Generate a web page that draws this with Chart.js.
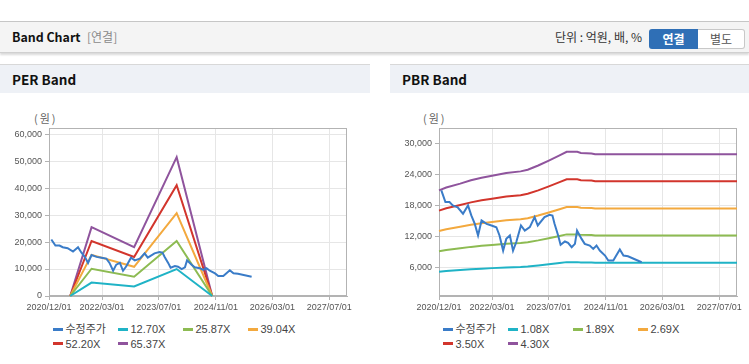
<!DOCTYPE html>
<html><head><meta charset="utf-8">
<script src="https://cdn.jsdelivr.net/npm/chart.js@4.4.1/dist/chart.umd.min.js"></script>
<style>
html,body{margin:0;padding:0;background:#fff;width:749px;height:364px;overflow:hidden;font-family:"Noto Sans CJK KR","Liberation Sans",sans-serif;}
.abs{position:absolute;}
#topline{left:0;top:21px;width:749px;height:1px;background:#c6c6c6;}
#hdr{left:0;top:22px;width:749px;height:30px;background:#f4f4f4;border-bottom:1px solid #d0d0d0;box-shadow:0 2px 2px rgba(0,0,0,0.15);}
#hdrTitle{left:12px;top:22px;height:30px;line-height:30px;font-size:12.4px;font-weight:700;color:#111;}
#hdrSub{left:87px;top:22px;height:30px;line-height:30px;font-size:12px;color:#8a8a8a;}
#unit{right:107px;top:22px;height:30px;line-height:30px;font-size:12px;color:#333;}
#btn1{left:649px;top:29px;width:49px;height:20px;line-height:20px;text-align:center;background:#2f6fb6;color:#fff;font-size:12px;font-weight:700;border-radius:3px 0 0 3px;}
#btn2{left:698px;top:29px;width:46px;height:18px;line-height:18px;text-align:center;background:#fff;color:#555;font-size:12px;border:1px solid #c8c8c8;border-left:none;border-radius:0 3px 3px 0;}
.panel{top:64px;height:299px;border-top:1px solid #d8d8d8;border-bottom:1px solid #cfcfcf;background:#fff;}
.phead{left:0;top:0;right:0;height:28px;background:#eef1f6;}
.ptitle{left:12px;top:0;height:28px;line-height:28px;font-size:13.5px;font-weight:700;color:#111;}
.unitlbl{font-size:11px;color:#666;top:110px;letter-spacing:2px;}
.legend{font-family:"Liberation Sans","Noto Sans CJK KR",sans-serif;font-size:11px;color:#444;}
.lrow{height:14.7px;line-height:14.7px;white-space:nowrap;}
.litem{display:inline-block;width:65px;white-space:nowrap;}
.lmark{display:inline-block;width:10px;height:3px;vertical-align:middle;margin-right:2.5px;position:relative;top:-1px;}
</style>
</head>
<body>
<div id="topline" class="abs"></div>
<div id="hdr" class="abs"></div>
<div id="hdrTitle" class="abs">Band Chart</div>
<div id="hdrSub" class="abs">[연결]</div>
<div id="unit" class="abs">단위 : 억원, 배, %</div>
<div id="btn1" class="abs">연결</div>
<div id="btn2" class="abs">별도</div>

<div class="abs panel" style="left:0;width:370px;">
  <div class="abs phead"></div>
  <div class="abs ptitle">PER Band</div>
</div>
<div class="abs panel" style="left:390px;width:359px;">
  <div class="abs phead"></div>
  <div class="abs ptitle">PBR Band</div>
</div>
<div class="abs unitlbl" style="left:34px;">(원)</div>
<div class="abs unitlbl" style="left:423px;">(원)</div>

<div class="abs" style="left:0;top:120px;width:370px;height:196px;"><canvas id="per" width="370" height="196"></canvas></div>
<div class="abs" style="left:390px;top:120px;width:359px;height:196px;"><canvas id="pbr" width="359" height="196"></canvas></div>

<div id="perLegend" class="abs legend" style="left:53px;top:322px;"></div>
<div id="pbrLegend" class="abs legend" style="left:443px;top:322px;"></div>

<script>
// ---- Data ----
const xTickLabels = ['2020/12/01','2022/03/01','2023/07/01','2024/11/01','2026/03/01','2027/07/01'];
const xRange = ['2020/12/01','2027/12/01'];

const priceLabel = '수정주가';
const priceDates = ['2020/12/21','2021/01/25','2021/03/01','2021/03/29','2021/05/10','2021/06/25','2021/08/07','2021/09/04',
  '2021/10/04','2021/11/01','2021/12/01','2022/01/13','2022/02/24','2022/04/07','2022/05/04','2022/06/04','2022/07/01',
  '2022/08/01','2022/08/28','2022/09/25','2022/11/04','2022/12/07','2023/01/19','2023/03/01','2023/03/28','2023/05/25',
  '2023/07/07','2023/08/01','2023/08/19','2023/09/19','2023/10/10','2023/11/16','2023/12/13','2024/01/13','2024/02/10',
  '2024/02/28','2024/04/07','2024/05/04','2024/06/16','2024/07/16','2024/08/13','2024/09/10','2024/10/25','2024/11/22',
  '2025/01/04','2025/03/01','2025/04/01','2025/05/10','2025/09/04'];
const priceValues = [20960,18700,18700,18060,17700,16450,18060,16130,
  14500,12260,15160,14500,14190,13860,12260,9350,11610,
  12260,9350,11000,14190,13200,13860,15800,14190,15800,
  16260,16100,14520,12260,10450,11100,10840,10000,10650,
  13220,11610,10650,10320,9680,10320,9350,8390,7420,
  7420,9550,8390,8260,7100];

const perBandLabels = ['12.70X','25.87X','39.04X','52.20X','65.37X'];
const perBandDates = ['2021/06/01','2021/12/01','2022/12/01','2023/12/01','2024/10/01'];
const per1270 = [0,4960,3520,9990,0];
const per2587 = [0,10100,7170,20350,0];
const per3904 = [0,15250,10830,30720,0];
const per5220 = [0,20390,14480,41070,0];
const per6537 = [0,25530,18130,51430,0];
const perYTicks = [0,10000,20000,30000,40000,50000,60000];
const perYRange = [0,62100];

const pbrBandLabels = ['1.08X','1.89X','2.69X','3.50X','4.30X'];
const pbrBandDates = ['2020/12/01','2021/02/01','2021/06/01','2021/09/01','2021/12/01','2022/03/01','2022/07/01',
  '2022/11/01','2023/01/01','2023/04/01','2023/07/01','2023/10/01','2023/12/01','2024/03/01','2024/04/01',
  '2024/07/01','2024/08/01','2027/12/01'];
const pbr108 = [5264,5400,5591,5752,5875,5972,6102,6183,6264,6469,6707,6955,7128,7128,7074,7052,7015,7015];
const pbr189 = [9212,9450,9785,10066,10282,10452,10679,10820,10962,11321,11737,12172,12474,12474,12380,12342,12276,12276];
const pbr269 = [13111,13450,13926,14327,14634,14876,15199,15400,15602,16113,16705,17324,17754,17754,17620,17566,17472,17472];
const pbr350 = [17059,17500,18120,18641,19040,19355,19775,20038,20300,20965,21735,22540,23100,23100,22925,22855,22733,22733];
const pbr430 = [20958,21500,22261,22902,23392,23779,24295,24618,24940,25757,26703,27692,28380,28380,28165,28079,27929,27929];
const pbrYTicks = [6000,12000,18000,24000,30000];
const pbrYRange = [600,32900];

const colors = {price:'#3a7cc8', b1:'#1fb3c6', b2:'#8dbb52', b3:'#f3a93e', b4:'#d2352c', b5:'#8f549d'};

// ---- Helpers ----
function ms(s){const p=s.split('/').map(Number);return Date.UTC(p[0],p[1]-1,p[2]);}
function fmt(v){const d=new Date(v);const m=d.getUTCMonth()+1, dd=d.getUTCDate();return d.getUTCFullYear()+'/'+(m<10?'0':'')+m+'/'+(dd<10?'0':'')+dd;}
function pts(dates, vals){return dates.map((d,i)=>({x:ms(d),y:vals[i]}));}
function ds(label, data, color){return {label, data, borderColor:color, backgroundColor:color, borderWidth:2, pointRadius:0, tension:0, fill:false, clip:false};}

const framePlugin = {id:'frame', beforeDatasetsDraw(chart){const {ctx,chartArea:a}=chart;ctx.save();ctx.strokeStyle='#b3b3b3';ctx.lineWidth=1;
  ctx.strokeRect(Math.round(a.left)+0.5,Math.round(a.top)+0.5,Math.round(a.right-a.left)-1,Math.round(a.bottom-a.top)-1);ctx.restore();}};

function makeChart(id, datasets, yTicks, yRange, yAxisW, padRight){
  return new Chart(document.getElementById(id), {
    type:'line',
    data:{datasets},
    options:{
      responsive:false, animation:false, devicePixelRatio:1,
      layout:{padding:{top:8,right:padRight,bottom:0,left:0}},
      plugins:{legend:{display:false}, tooltip:{enabled:false}},
      scales:{
        x:{type:'linear', min:ms(xRange[0]), max:ms(xRange[1]),
          afterBuildTicks:(s)=>{s.ticks=xTickLabels.map(t=>({value:ms(t)}));},
          afterFit:(s)=>{s.height=20;},
          ticks:{callback:(v)=>fmt(v), autoSkip:false, maxRotation:0, minRotation:0, padding:2, color:'#555', font:{family:'Liberation Sans', size:9}},
          grid:{color:'#e6e6e6', tickColor:'#b3b3b3', tickLength:4},
          border:{color:'#b3b3b3'}},
        y:{type:'linear', min:yRange[0], max:yRange[1],
          afterBuildTicks:(s)=>{s.ticks=yTicks.map(v=>({value:v}));},
          afterFit:(s)=>{s.width=yAxisW;},
          ticks:{padding:3, color:'#555', font:{family:'Liberation Sans', size:9}},
          grid:{color:'#e6e6e6', tickColor:'#b3b3b3', tickLength:4},
          border:{color:'#b3b3b3'}}
      }
    },
    plugins:[framePlugin]
  });
}

const pricePts = pts(priceDates, priceValues);
makeChart('per', [
  ds(priceLabel, pricePts, colors.price),
  ds(perBandLabels[0], pts(perBandDates, per1270), colors.b1),
  ds(perBandLabels[1], pts(perBandDates, per2587), colors.b2),
  ds(perBandLabels[2], pts(perBandDates, per3904), colors.b3),
  ds(perBandLabels[3], pts(perBandDates, per5220), colors.b4),
  ds(perBandLabels[4], pts(perBandDates, per6537), colors.b5)
], perYTicks, perYRange, 49, 23);

makeChart('pbr', [
  ds(priceLabel, pricePts, colors.price),
  ds(pbrBandLabels[0], pts(pbrBandDates, pbr108), colors.b1),
  ds(pbrBandLabels[1], pts(pbrBandDates, pbr189), colors.b2),
  ds(pbrBandLabels[2], pts(pbrBandDates, pbr269), colors.b3),
  ds(pbrBandLabels[3], pts(pbrBandDates, pbr350), colors.b4),
  ds(pbrBandLabels[4], pts(pbrBandDates, pbr430), colors.b5)
], pbrYTicks, pbrYRange, 49, 12);

function legend(id, bandLabels){
  const items = [[priceLabel,colors.price],[bandLabels[0],colors.b1],[bandLabels[1],colors.b2],[bandLabels[2],colors.b3],[bandLabels[3],colors.b4],[bandLabels[4],colors.b5]];
  const el = document.getElementById(id);
  let html = '';
  for(let r=0;r<2;r++){
    html += '<div class="lrow">';
    items.slice(r*4, r*4+4).forEach(([t,c])=>{html += '<span class="litem"><span class="lmark" style="background:'+c+'"></span>'+t+'</span>';});
    html += '</div>';
  }
  el.innerHTML = html;
}
legend('perLegend', perBandLabels);
legend('pbrLegend', pbrBandLabels);
</script>
</body></html>
